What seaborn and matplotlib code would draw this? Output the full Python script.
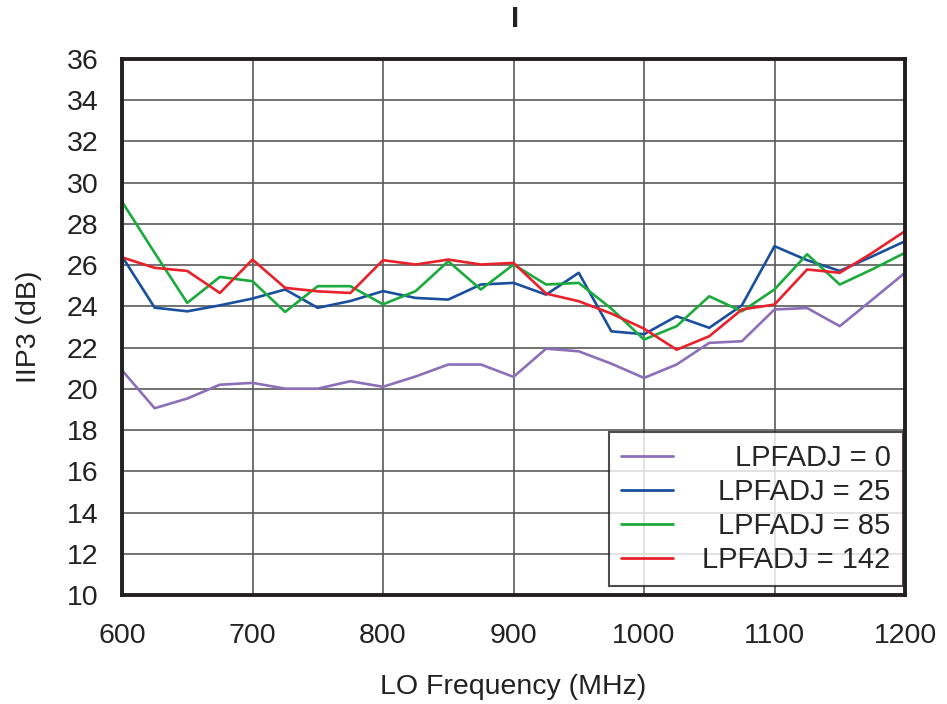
import numpy as np
import pandas as pd
import matplotlib
matplotlib.use("Agg")
import matplotlib.pyplot as plt
import seaborn as sns

freq = [600, 625, 650, 675, 700, 725, 750, 775, 800, 825, 850, 875, 900,
        925, 950, 975, 1000, 1025, 1050, 1075, 1100, 1125, 1150, 1175, 1200]

lpf_0 = [20.9, 19.06, 19.53, 20.2, 20.29, 20.01, 20.01, 20.37, 20.1, 20.6, 21.18, 21.18, 20.58,
         21.95, 21.82, 21.22, 20.53, 21.18, 22.23, 22.31, 23.85, 23.92, 23.04, 24.33, 25.63]
lpf_25 = [26.43, 23.94, 23.76, 24.05, 24.38, 24.82, 23.93, 24.26, 24.74, 24.41, 24.33, 25.06, 25.14,
          24.57, 25.63, 22.79, 22.65, 23.52, 22.96, 24.05, 26.92, 26.24, 25.72, 26.43, 27.16]
lpf_85 = [29.08, 26.6, 24.17, 25.43, 25.22, 23.73, 24.98, 24.98, 24.1, 24.74, 26.19, 24.82, 26.03,
          25.06, 25.14, 23.89, 22.39, 23.04, 24.49, 23.76, 24.82, 26.53, 25.06, 25.8, 26.6]
lpf_142 = [26.38, 25.87, 25.72, 24.65, 26.27, 24.9, 24.73, 24.65, 26.24, 26.03, 26.27, 26.03, 26.11,
           24.62, 24.25, 23.65, 22.92, 21.9, 22.55, 23.85, 24.09, 25.79, 25.63, 26.6, 27.65]

series_labels = ["LPFADJ = 0", "LPFADJ = 25", "LPFADJ = 85", "LPFADJ = 142"]
series_values = [lpf_0, lpf_25, lpf_85, lpf_142]
colors = ["#8b6fb8", "#1a4f9e", "#1bab3c", "#e8212b"]

x_ticks = [600, 700, 800, 900, 1000, 1100, 1200]
y_ticks = list(range(10, 37, 2))

rows = []
for lab, vals in zip(series_labels, series_values):
    for f, v in zip(freq, vals):
        rows.append({"freq": f, "iip3": v, "series": lab})
df = pd.DataFrame(rows)

sns.set_style("white")
plt.rcParams["font.family"] = ["Liberation Sans", "DejaVu Sans"]

fig = plt.figure(figsize=(9.47, 7.04), dpi=100)
ax = fig.add_axes([122 / 947, 109 / 704, 783 / 947, 536 / 704])

sns.lineplot(data=df, x="freq", y="iip3", hue="series", hue_order=series_labels,
             palette=colors, linewidth=1.9, ax=ax, estimator=None, sort=False)

ax.set_xlim(600, 1200)
ax.set_ylim(10, 36)
ax.set_xticks(x_ticks)
ax.set_yticks(y_ticks)
ax.tick_params(axis="both", labelsize=20.5, length=0, colors="#222222")
ax.tick_params(axis="x", pad=20)
ax.tick_params(axis="y", pad=17)
ax.grid(True, color="#5a5a5a", linewidth=1.2)
ax.set_axisbelow(True)
for s in ax.spines.values():
    s.set_visible(True)
    s.set_color("#231f20")
    s.set_linewidth(2.8)

ax.set_xlabel("LO Frequency (MHz)", fontsize=20.5, color="#222222", labelpad=18)
ax.set_ylabel("IIP3 (dB)", fontsize=20.5, color="#222222", labelpad=18)
fig.text(515 / 947, 1 - 19 / 704, "I", fontsize=21, ha="center", va="center",
         color="#222222", fontweight="bold")

leg = ax.legend(loc="lower right", bbox_to_anchor=(0.9974, 0.0168), borderaxespad=0,
                fontsize=21, frameon=True, fancybox=False,
                handlelength=1.8, handletextpad=1.0, borderpad=0.42, labelspacing=0.2)
leg.get_frame().set_edgecolor("#231f20")
leg.get_frame().set_linewidth(1.5)
for h in leg.get_lines():
    h.set_linewidth(2.0)

fig.canvas.draw()
renderer = fig.canvas.get_renderer()
widths = [t.get_window_extent(renderer).width for t in leg.get_texts()]
max_w = max(widths)
for t, w in zip(leg.get_texts(), widths):
    t.set_position((max_w - w, 0))

fig.savefig("out.png", dpi=100)
